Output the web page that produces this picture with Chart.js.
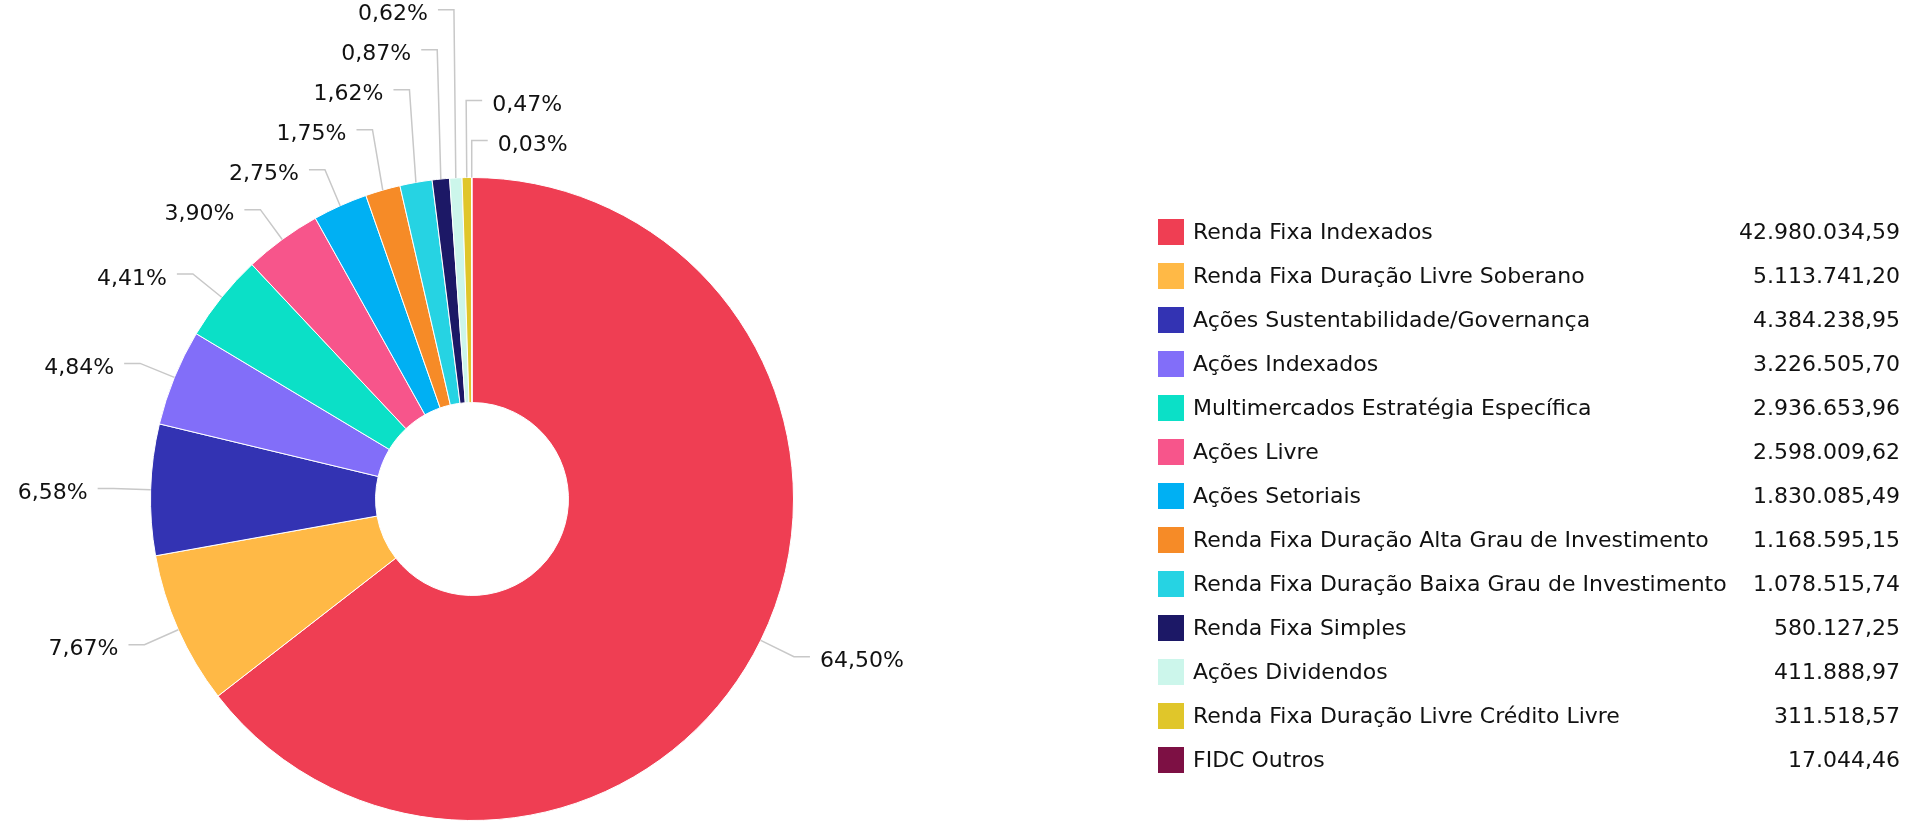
<!DOCTYPE html>
<html lang="pt-BR">
<head>
<meta charset="utf-8">
<script src="https://cdn.jsdelivr.net/npm/chart.js@4/dist/chart.umd.min.js"></script>
<style>
    html, body { margin: 0; padding: 0; background: #fff; }
    #wrap { position: relative; width: 1928px; height: 821px; overflow: hidden; }
    #pie { position: absolute; left: 0; top: 0; }
    #legend {
        position: absolute; left: 1158px; top: 210px; width: 742px;
        font-family: 'DejaVu Sans', Verdana, sans-serif; font-size: 22px; color: #111;
    }
    .row { position: relative; height: 44px; line-height: 44px; white-space: nowrap; }
    .row .sw { position: absolute; left: 0; top: 9px; width: 26px; height: 26px; }
    .row .lbl { position: absolute; left: 35px; top: 0; }
    .row .val { position: absolute; right: 0; top: 0; }
</style>
</head>
<body>
<div id="wrap">
    <canvas id="pie" width="1928" height="821"></canvas>
    <div id="legend"></div>
</div>
<script>
// ─── DADOS ────────────────────────────────────────────────────────────────
const categories = [
    'Renda Fixa Indexados',
    'Renda Fixa Duração Livre Soberano',
    'Ações Sustentabilidade/Governança',
    'Ações Indexados',
    'Multimercados Estratégia Específica',
    'Ações Livre',
    'Ações Setoriais',
    'Renda Fixa Duração Alta Grau de Investimento',
    'Renda Fixa Duração Baixa Grau de Investimento',
    'Renda Fixa Simples',
    'Ações Dividendos',
    'Renda Fixa Duração Livre Crédito Livre',
    'FIDC Outros'
];

const values = [
    42980034.59, 5113741.20, 4384238.95, 3226505.70, 2936653.96, 2598009.62,
    1830085.49, 1168595.15, 1078515.74, 580127.25, 411888.97, 311518.57, 17044.46
];

const colors = [
    '#ef3e53', '#ffb946', '#3333b3', '#826ef9', '#0be0c7', '#f7558b',
    '#00b0f3', '#f68b27', '#26d3e3', '#1c1866', '#ccf6eb', '#e0c62a', '#7d1044'
];

const total = values.reduce((a, b) => a + b, 0);

// 1234567.8 -> "1.234.567,80"
function fmtBR(v) {
    const [i, d] = v.toFixed(2).split('.');
    return i.replace(/\B(?=(\d{3})+(?!\d))/g, '.') + ',' + d;
}

function fmtPct(v) {
    return (v / total * 100).toFixed(2).replace('.', ',') + '%';
}

// ─── RÓTULOS EXTERNOS COM LINHAS ──────────────────────────────────────────
const outLabels = {
    id: 'outLabels',
    afterDatasetsDraw(chart) {
        const arcs = chart.getDatasetMeta(0).data;
        if (!arcs.length) return;
        const { ctx } = chart;
        const GAP = 40, BREAK = 37, SEG = 16, PAD = 10, TOP = 8;

        const items = arcs.map((arc, i) => {
            const mid = (arc.startAngle + arc.endAngle) / 2;
            const deg = ((mid + Math.PI / 2) * 180 / Math.PI + 360) % 360;
            const r = arc.outerRadius, br = r + BREAK;
            return {
                i, deg,
                right: deg < 180 || deg > 358.5,   // fatias coladas no topo vão para a direita
                tx: arc.x + r * Math.cos(mid), ty: arc.y + r * Math.sin(mid),
                bx: arc.x + br * Math.cos(mid), y: arc.y + br * Math.sin(mid)
            };
        });

        const left = items.filter(p => !p.right).sort((a, b) => b.deg - a.deg);
        const right = items.filter(p => p.right)
            .sort((a, b) => (a.deg > 180 ? a.deg - 360 : a.deg) - (b.deg > 180 ? b.deg - 360 : b.deg));

        // empurra para cima os rótulos que se sobrepõem
        [left, right].forEach(list => {
            for (let k = list.length - 2; k >= 0; k--) {
                list[k].y = Math.min(list[k].y, list[k + 1].y - GAP);
            }
            if (list.length && list[0].y < TOP) {
                list[0].y = TOP;
                for (let k = 1; k < list.length; k++) {
                    list[k].y = Math.max(list[k].y, list[k - 1].y + GAP);
                }
            }
        });

        ctx.save();
        ctx.strokeStyle = '#c8c8c8';
        ctx.lineWidth = 1.5;
        ctx.fillStyle = '#111';
        ctx.font = "22px 'DejaVu Sans', Verdana, sans-serif";
        ctx.textBaseline = 'middle';
        items.forEach(p => {
            const dir = p.right ? 1 : -1;
            ctx.beginPath();
            ctx.moveTo(p.tx, p.ty);
            ctx.lineTo(p.bx, p.y);
            ctx.lineTo(p.bx + dir * SEG, p.y);
            ctx.stroke();
            ctx.textAlign = p.right ? 'left' : 'right';
            ctx.fillText(fmtPct(values[p.i]), p.bx + dir * (SEG + PAD), p.y + 5);
        });
        ctx.restore();
    }
};

// ─── GRÁFICO ──────────────────────────────────────────────────────────────
const pieChart = new Chart(document.getElementById('pie').getContext('2d'), {
    type: 'doughnut',
    data: {
        labels: categories,
        datasets: [{
            data: values,
            backgroundColor: colors,
            borderColor: '#ffffff',
            borderWidth: 1
        }]
    },
    options: {
        responsive: false,
        animation: false,
        cutout: '30%',
        layout: { padding: { top: 177, bottom: 0, left: 150, right: 1134 } },
        plugins: {
            legend: { display: false },
            tooltip: { enabled: false }
        }
    },
    plugins: [outLabels]
});

// ─── LEGENDA ──────────────────────────────────────────────────────────────
const legendEl = document.getElementById('legend');
categories.forEach((name, i) => {
    const row = document.createElement('div');
    row.className = 'row';
    row.innerHTML =
        `<span class="sw" style="background:${colors[i]}"></span>` +
        `<span class="lbl">${name}</span>` +
        `<span class="val">${fmtBR(values[i])}</span>`;
    legendEl.appendChild(row);
});
</script>
</body>
</html>
